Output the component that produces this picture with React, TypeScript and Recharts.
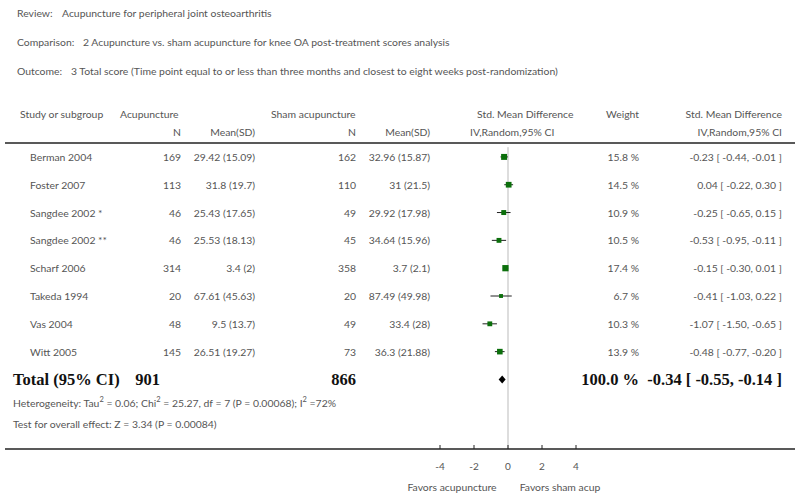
import { ComposedChart, Scatter, XAxis, YAxis, ReferenceLine } from "recharts";

// forest plot data
const studies = [
  "Berman 2004",
  "Foster 2007",
  "Sangdee 2002 *",
  "Sangdee 2002 **",
  "Scharf 2006",
  "Takeda 1994",
  "Vas 2004",
  "Witt 2005",
];
const acupN = [169, 113, 46, 46, 314, 20, 48, 145];
const acupMean = [29.42, 31.8, 25.43, 25.53, 3.4, 67.61, 9.5, 26.51];
const acupSD = [15.09, 19.7, 17.65, 18.13, 2, 45.63, 13.7, 19.27];
const shamN = [162, 110, 49, 45, 358, 20, 49, 73];
const shamMean = [32.96, 31, 29.92, 34.64, 3.7, 87.49, 33.4, 36.3];
const shamSD = [15.87, 21.5, 17.98, 15.96, 2.1, 49.98, 28, 21.88];
const weights = [15.8, 14.5, 10.9, 10.5, 17.4, 6.7, 10.3, 13.9];
const smd = [-0.23, 0.04, -0.25, -0.53, -0.15, -0.41, -1.07, -0.48];
const ciLow = [-0.44, -0.22, -0.65, -0.95, -0.3, -1.03, -1.5, -0.77];
const ciHigh = [-0.01, 0.3, 0.15, -0.11, 0.01, 0.22, -0.65, -0.2];

const totalN = [901, 866];
const totalWeight = 100.0;
const totalSmd = [-0.34, -0.55, -0.14]; // estimate, low, high

const xTicks = [-4, -2, 0, 2, 4];

// layout
const W = 800;
const H = 498;
const PLOT_L = 440;
const PLOT_R = 576;
const PLOT_T = 143;
const PLOT_B = 449;
const X_DOMAIN: [number, number] = [-4, 4];
const Y_DOMAIN: [number, number] = [0, 11];
const ROW_H = (PLOT_B - PLOT_T) / (Y_DOMAIN[1] - Y_DOMAIN[0]);
const PPU = (PLOT_R - PLOT_L) / (X_DOMAIN[1] - X_DOMAIN[0]);
const TOTAL_ROW = 8.5;

const rowY = (r: number) => PLOT_T + (r + 0.5) * ROW_H;

const fmtCI = (e: number, l: number, h: number) =>
  `${e.toFixed(2)} [ ${l.toFixed(2)}, ${h.toFixed(2)} ]`;

const studyData = studies.map((name, i) => ({
  name,
  x: smd[i],
  y: i + 0.5,
  w: weights[i],
}));
const totalData = [{ x: totalSmd[0], y: TOTAL_ROW }];

const FONT = "Lato, 'Open Sans', sans-serif";
const SERIF = "'Liberation Serif', 'DejaVu Serif', serif";
const GREY = "#555";
const FS = 10.4;

const Square = (props: any) => {
  const { cx, cy, payload } = props;
  const s = 1.5 * Math.sqrt(payload.w);
  return <rect x={cx - s / 2} y={cy - s / 2} width={s} height={s} fill="#0b6f0b" />;
};

const Diamond = (props: any) => {
  const { cx, cy } = props;
  const l = (totalSmd[0] - totalSmd[1]) * PPU;
  const r = (totalSmd[2] - totalSmd[0]) * PPU;
  const h = 4;
  return (
    <polygon
      points={`${cx - l},${cy} ${cx},${cy - h} ${cx + r},${cy} ${cx},${cy + h}`}
      fill="#000"
    />
  );
};

const T = (p: any) => (
  <text
    fontFamily={FONT}
    fontSize={FS}
    fill={GREY}
    dominantBaseline="central"
    {...p}
  />
);

const B = (p: any) => (
  <text
    fontFamily={SERIF}
    fontSize={16.5}
    fontWeight="bold"
    fill="#111"
    dominantBaseline="central"
    {...p}
  />
);

const Overlay = () => (
  <svg
    width={W}
    height={H}
    style={{ position: "absolute", left: 0, top: 0, pointerEvents: "none" }}
  >
    <T x={17} y={13}>Review:</T>
    <T x={62} y={13}>Acupuncture for peripheral joint osteoarthritis</T>
    <T x={17} y={42}>Comparison:</T>
    <T x={83} y={42}>
      2 Acupuncture vs. sham acupuncture for knee OA post-treatment scores analysis
    </T>
    <T x={17} y={71}>Outcome:</T>
    <T x={71} y={71}>
      3 Total score (Time point equal to or less than three months and closest to eight weeks post-randomization)
    </T>

    <T x={20} y={114}>Study or subgroup</T>
    <T x={120} y={114}>Acupuncture</T>
    <T x={271} y={114}>Sham acupuncture</T>
    <T x={477} y={114}>Std. Mean Difference</T>
    <T x={639} y={114} textAnchor="end">Weight</T>
    <T x={782} y={114} textAnchor="end">Std. Mean Difference</T>

    <T x={181} y={132} textAnchor="end">N</T>
    <T x={255} y={132} textAnchor="end">Mean(SD)</T>
    <T x={356} y={132} textAnchor="end">N</T>
    <T x={430} y={132} textAnchor="end">Mean(SD)</T>
    <T x={470} y={132}>IV,Random,95% CI</T>
    <T x={782} y={132} textAnchor="end">IV,Random,95% CI</T>

    <line x1={5} x2={795} y1={PLOT_T} y2={PLOT_T} stroke="#222" strokeWidth={1.6} />

    {studies.map((s, i) => (
      <g key={s}>
        <T x={30} y={rowY(i)}>{s}</T>
        <T x={181} y={rowY(i)} textAnchor="end">{acupN[i]}</T>
        <T x={255} y={rowY(i)} textAnchor="end">{`${acupMean[i]} (${acupSD[i]})`}</T>
        <T x={356} y={rowY(i)} textAnchor="end">{shamN[i]}</T>
        <T x={430} y={rowY(i)} textAnchor="end">{`${shamMean[i]} (${shamSD[i]})`}</T>
        <T x={639} y={rowY(i)} textAnchor="end">{`${weights[i].toFixed(1)} %`}</T>
        <T x={782} y={rowY(i)} textAnchor="end">{fmtCI(smd[i], ciLow[i], ciHigh[i])}</T>
      </g>
    ))}

    <B x={13} y={rowY(8)}>Total (95% CI)</B>
    <B x={160} y={rowY(8)} textAnchor="end">{totalN[0]}</B>
    <B x={356} y={rowY(8)} textAnchor="end">{totalN[1]}</B>
    <B x={639} y={rowY(8)} textAnchor="end">{`${totalWeight.toFixed(1)} %`}</B>
    <B x={782} y={rowY(8)} textAnchor="end">
      {fmtCI(totalSmd[0], totalSmd[1], totalSmd[2])}
    </B>

    <T x={13} y={403}>
      Heterogeneity: Tau
      <tspan fontSize={7.5} dy={-4}>2</tspan>
      <tspan dy={4}> = 0.06; Chi</tspan>
      <tspan fontSize={7.5} dy={-4}>2</tspan>
      <tspan dy={4}> = 25.27, df = 7 (P = 0.00068); I</tspan>
      <tspan fontSize={7.5} dy={-4}>2</tspan>
      <tspan dy={4}> =72%</tspan>
    </T>
    <T x={13} y={424}>Test for overall effect: Z = 3.34 (P = 0.00084)</T>

    <line x1={5} x2={795} y1={PLOT_B} y2={PLOT_B} stroke="#222" strokeWidth={1.6} />

    <T x={452} y={487} textAnchor="middle">Favors acupuncture</T>
    <T x={560} y={487} textAnchor="middle">Favors sham acup</T>
  </svg>
);

export default function App() {
  return (
    <div style={{ position: "absolute", left: 0, top: 0, width: W, height: H, background: "#fff" }}>
      <ComposedChart
        width={W}
        height={H}
        margin={{ top: PLOT_T, bottom: H - PLOT_B - 30, left: PLOT_L, right: W - PLOT_R }}
      >
        <XAxis
          type="number"
          dataKey="x"
          domain={X_DOMAIN}
          ticks={xTicks}
          interval={0}
          allowDataOverflow
          axisLine={false}
          tickSize={-4}
          tickMargin={18}
          height={30}
          tickLine={{ stroke: "#222" }}
          tick={{ fontSize: 10, fill: GREY, fontFamily: FONT }}
        />
        <YAxis type="number" dataKey="y" domain={Y_DOMAIN} reversed hide width={0} />
        <ReferenceLine
          segment={[
            { x: 0, y: 0.15 },
            { x: 0, y: Y_DOMAIN[1] },
          ]}
          stroke="#bbb"
        />
        {studies.map((s, i) => (
          <ReferenceLine
            key={s}
            segment={[
              { x: ciLow[i], y: i + 0.5 },
              { x: ciHigh[i], y: i + 0.5 },
            ]}
            stroke="#222"
          />
        ))}
        <Scatter data={studyData} dataKey="x" shape={Square} isAnimationActive={false} />
        <Scatter data={totalData} dataKey="x" shape={Diamond} isAnimationActive={false} />
      </ComposedChart>
      <Overlay />
    </div>
  );
}
